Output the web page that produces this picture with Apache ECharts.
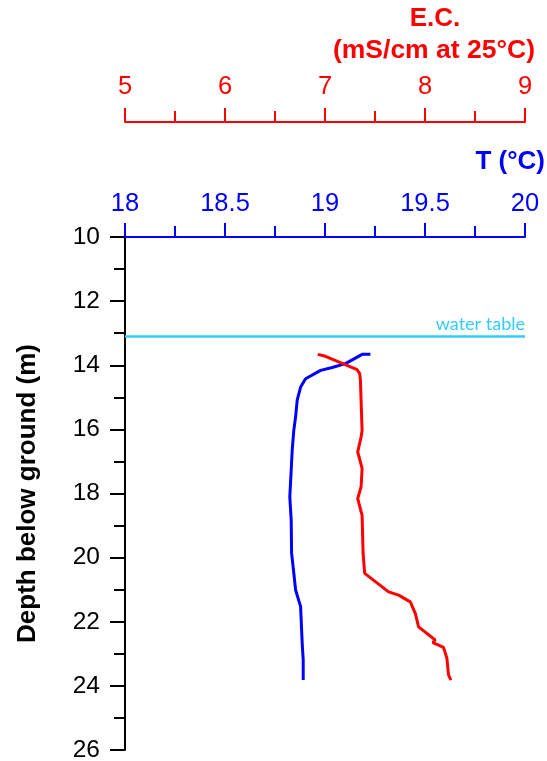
<!DOCTYPE html>
<html>
<head>
<meta charset="utf-8">
<script src="https://cdn.jsdelivr.net/npm/echarts@6/dist/echarts.min.js"></script>
<style>html,body{margin:0;padding:0;background:#fff}#c{width:547px;height:761px}</style>
</head>
<body>
<div id="c"></div>
<script>
// Temperature profile (T, °C) vs depth (m)
const tDepth = [13.66,13.66,13.95,14.07,14.16,14.42,14.68,15.09,15.61,16.03,16.65,17.27,18.11,18.83,19.86,20.48,21.01,21.53,22.67,23.19,23.82];
const tValues = [19.227,19.186,19.102,19.036,18.978,18.903,18.878,18.861,18.853,18.844,18.836,18.831,18.824,18.831,18.833,18.844,18.853,18.878,18.886,18.891,18.891];
// Electrical conductivity profile (mS/cm at 25°C) vs depth (m)
const ecDepth = [13.66,13.72,14.14,14.26,14.47,16.03,16.24,16.70,17.22,17.79,18.16,18.68,19.87,20.49,21.07,21.17,21.38,21.74,22.16,22.57,22.62,22.65,22.80,23.14,23.66,23.82];
const ecValues = [6.928,7.005,7.321,7.347,7.354,7.371,7.361,7.327,7.371,7.361,7.327,7.371,7.381,7.397,7.636,7.736,7.853,7.903,7.936,8.102,8.119,8.079,8.185,8.219,8.235,8.259];
const waterTable = 13.1;
const depthRange = [10, 26];
const tRange = [18, 20];
const ecRange = [5, 9];

const BLUE = '#0000ff', RED = '#ff0000', CYAN = '#33ccff';
const FONT = 'Liberation Sans';

const chart = echarts.init(document.getElementById('c'), null, {renderer: 'canvas'});
chart.setOption({
  animation: false,
  backgroundColor: '#fff',
  grid: {left: 125, right: 22, top: 237, bottom: 11, containLabel: false, outerBoundsMode: 'none'},
  graphic: [
    {type: 'text', x: 435, y: 19, style: {text: 'E.C.', align: 'center', verticalAlign: 'middle', font: 'bold 26px "Liberation Sans"', fill: RED}},
    {type: 'text', x: 535, y: 51, style: {text: '(mS/cm at 25°C)', align: 'right', verticalAlign: 'middle', font: 'bold 26.5px "Liberation Sans"', fill: RED}},
    {type: 'text', x: 545, y: 162, style: {text: 'T (°C)', align: 'right', verticalAlign: 'middle', font: 'bold 26px "Liberation Sans"', fill: BLUE}}
  ],
  xAxis: [
    {
      type: 'value', position: 'top', min: tRange[0], max: tRange[1], interval: 0.5,
      axisLine: {show: true, onZero: false, lineStyle: {color: BLUE, width: 2}},
      axisTick: {show: true, length: 14, lineStyle: {color: BLUE, width: 2}},
      minorTick: {show: true, splitNumber: 2, length: 11, lineStyle: {color: BLUE, width: 2}},
      axisLabel: {color: BLUE, fontSize: 25.5, fontFamily: FONT, margin: 20},
      splitLine: {show: false}
    },
    {
      type: 'value', position: 'top', offset: 115, min: ecRange[0], max: ecRange[1], interval: 1,
      axisLine: {show: true, onZero: false, lineStyle: {color: RED, width: 2}},
      axisTick: {show: true, length: 14, lineStyle: {color: RED, width: 2}},
      minorTick: {show: true, splitNumber: 2, length: 11, lineStyle: {color: RED, width: 2}},
      axisLabel: {color: RED, fontSize: 25.5, fontFamily: FONT, margin: 22},
      splitLine: {show: false}
    }
  ],
  yAxis: {
    type: 'value', inverse: true, min: depthRange[0], max: depthRange[1], interval: 2,
    name: 'Depth below ground (m)', nameLocation: 'middle', nameGap: 84, nameRotate: 90,
    nameTextStyle: {color: '#000', fontSize: 26, fontWeight: 'bold', fontFamily: FONT},
    axisLine: {show: true, onZero: false, lineStyle: {color: '#000', width: 2}},
    axisTick: {show: true, length: 15, lineStyle: {color: '#000', width: 2}},
    minorTick: {show: true, splitNumber: 2, length: 11, lineStyle: {color: '#000', width: 2}},
    axisLabel: {color: '#000', fontSize: 24.5, fontFamily: FONT, margin: 25},
    splitLine: {show: false}
  },
  series: [
    {
      name: 'T', type: 'line', xAxisIndex: 0, symbol: 'none',
      data: tValues.map((v, i) => [v, tDepth[i]]),
      lineStyle: {color: BLUE, width: 3}, z: 3,
      markLine: {
        silent: true, symbol: 'none',
        lineStyle: {color: CYAN, width: 2.5, type: 'solid'},
        label: {show: true, position: 'insideEndTop', formatter: 'water table', color: CYAN, fontSize: 18, fontFamily: 'Lato', distance: [0, 3]},
        data: [{yAxis: waterTable}]
      }
    },
    {
      name: 'E.C.', type: 'line', xAxisIndex: 1, symbol: 'none',
      data: ecValues.map((v, i) => [v, ecDepth[i]]),
      lineStyle: {color: RED, width: 3}, z: 3
    }
  ]
});
</script>
</body>
</html>
